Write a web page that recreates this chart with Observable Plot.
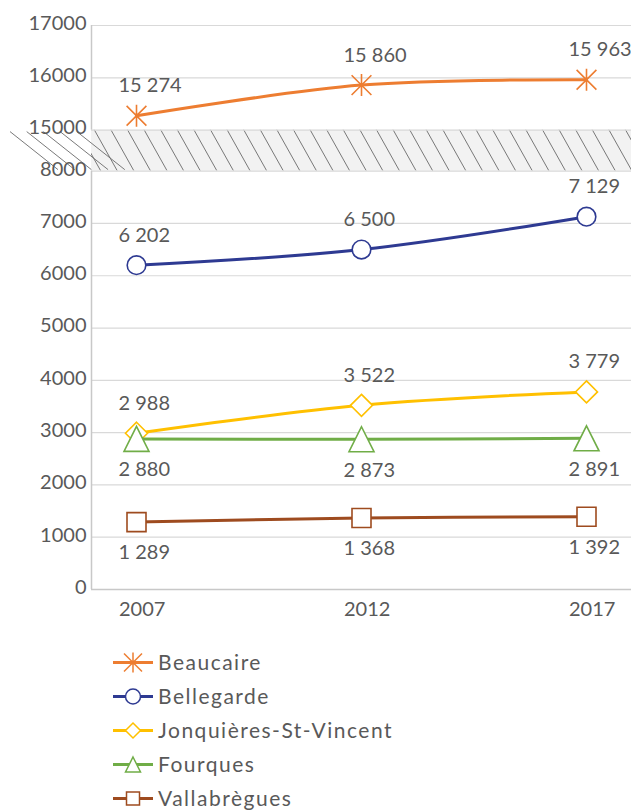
<!DOCTYPE html>
<html>
<head>
<meta charset="utf-8">
<script src="https://cdn.jsdelivr.net/npm/d3@7"></script>
<script src="https://cdn.jsdelivr.net/npm/@observablehq/plot@0.6"></script>
<style>
  body { margin: 0; background: #fff; }
  #chart svg, #legend svg { display: block; }
</style>
</head>
<body>
<div id="chart"></div>
<div id="legend"></div>
<script>
// ---- data ----
const years = [2007, 2012, 2017];
const communes = ["Beaucaire", "Bellegarde", "Jonquières-St-Vincent", "Fourques", "Vallabrègues"];
const beaucaire = [15274, 15860, 15963];
const bellegarde = [6202, 6500, 7129];
const jonquieres = [2988, 3522, 3779];
const fourques = [2880, 2873, 2891];
const vallabregues = [1289, 1368, 1392];
const seriesValues = [beaucaire, bellegarde, jonquieres, fourques, vallabregues];
const seriesColors = ["#ED7D31", "#2E3A92", "#FFC000", "#70AD47", "#9E4B1F"];
const seriesSymbols = ["star", "circle", "diamond", "triangle", "square"];
const labelSide = ["above", "above", "above", "below", "below"];
const lowTicks = [0, 1000, 2000, 3000, 4000, 5000, 6000, 7000, 8000];
const highTicks = [15000, 16000, 17000];
const xDomain = [2006, 2018];

// ---- broken axis mapping ----
const LOW_MAX = 8000, HIGH_MIN = 15000, HIGH_MAX = 17000, GAP = 785;
const m = v => v >= HIGH_MIN ? v - HIGH_MIN + LOW_MAX + GAP : v;
const fmt = d3.formatLocale({decimal: ",", thousands: " ", grouping: [3]}).format(",");

const allTicks = [...lowTicks, ...highTicks];
const tickLabel = new Map(allTicks.map(t => [m(t), String(t)]));

// ---- custom symbols (Excel-like) ----
const symbolDefs = {
  star: {draw(c, s) { const h = Math.sqrt(s / Math.PI), d = h * 0.9;
    c.moveTo(0, -h); c.lineTo(0, h); c.moveTo(-d, -d); c.lineTo(d, d); c.moveTo(-d, d); c.lineTo(d, -d); }},
  circle: {draw(c, s) { const h = Math.sqrt(s / Math.PI); c.moveTo(h, 0); c.arc(0, 0, h, 0, 2 * Math.PI); }},
  diamond: {draw(c, s) { const h = Math.sqrt(s / Math.PI);
    c.moveTo(0, -h); c.lineTo(h, 0); c.lineTo(0, h); c.lineTo(-h, 0); c.closePath(); }},
  triangle: {draw(c, s) { const h = Math.sqrt(s / Math.PI);
    c.moveTo(0, -h); c.lineTo(h, h); c.lineTo(-h, h); c.closePath(); }},
  square: {draw(c, s) { const h = Math.sqrt(s / Math.PI); c.rect(-h, -h, 2 * h, 2 * h); }}
};
const markerR = {star: 11, circle: 9.3, diamond: 11, triangle: 12.5, square: 9.5};
const legendR = {star: 10, circle: 7.5, diamond: 7.5, triangle: 7.5, square: 6.5};

// ---- build marks ----
const rows = [];
seriesValues.forEach((vals, i) => vals.forEach((v, j) =>
  rows.push({serie: communes[i], idx: i, year: years[j], value: v, ym: m(v)})));

const marks = [
  Plot.rect([{x1: xDomain[0], x2: xDomain[1], y1: m(LOW_MAX), y2: m(HIGH_MIN)}],
    {x1: "x1", x2: "x2", y1: "y1", y2: "y2", fill: "#f2f2f2"}),
  Plot.ruleY(allTicks.filter(t => t !== 0).map(m), {stroke: "#d9d9d9", strokeWidth: 1.2}),
  Plot.ruleY([m(0)], {stroke: "#c8c8c8", strokeWidth: 1.5}),
  Plot.ruleX([{y1: m(0), y2: m(LOW_MAX)}, {y1: m(HIGH_MIN), y2: m(HIGH_MAX)}],
    {x: () => xDomain[0], y1: "y1", y2: "y2", stroke: "#c8c8c8", strokeWidth: 1.5}),
  Plot.axisY({ticks: allTicks.map(m), tickFormat: d => tickLabel.get(d), tickSize: 0, tickPadding: 5,
    fontSize: 20, dy: -2}),
  Plot.axisX({ticks: years, tickFormat: d => String(d), tickSize: 0, tickPadding: 12,
    fontSize: 20, textAnchor: "start", dx: -17.5})
];
communes.forEach((name, i) => {
  const data = rows.filter(r => r.idx === i);
  const sym = seriesSymbols[i];
  marks.push(Plot.line(data, {x: "year", y: "ym", stroke: seriesColors[i], strokeWidth: 3, curve: "catmull-rom"}));
  marks.push(Plot.dot(data, {x: "year", y: "ym", symbol: symbolDefs[sym], r: markerR[sym],
    stroke: seriesColors[i], strokeWidth: 1.6, fill: sym === "star" ? "none" : "white"}));
  marks.push(Plot.text(data, {x: "year", y: "ym", text: d => fmt(d.value), fontSize: 20,
    fill: "#595959", textAnchor: "start", dx: -18, dy: labelSide[i] === "above" ? -30 : 31}));
});

const chart = Plot.plot({
  width: 631, height: 624,
  marginLeft: 91, marginRight: 0, marginTop: 25, marginBottom: 35,
  x: {domain: xDomain, axis: null},
  y: {domain: [0, m(HIGH_MAX)], axis: null},
  style: {fontFamily: "Lato, 'Open Sans', sans-serif", color: "#595959", background: "white", overflow: "visible"},
  marks
});

// hatch lines for the axis break
const sx = chart.scale("x"), sy = chart.scale("y");
const yTop = sy.apply(m(HIGH_MIN)), yBot = sy.apply(m(LOW_MAX));
const xL = sx.apply(xDomain[0]), xR = sx.apply(xDomain[1]);
const svg = d3.select(chart);
svg.append("defs").append("clipPath").attr("id", "hatchclip")
  .append("rect").attr("x", xL).attr("y", yTop).attr("width", xR - xL).attr("height", yBot - yTop);
const hg = svg.insert("g", "g[aria-label='rule']").attr("stroke", "#6a6a6a").attr("stroke-width", 0.9);
const inner = hg.append("g").attr("clip-path", "url(#hatchclip)");
for (let x = xL - 30; x < xR + 5; x += 16.6) {
  inner.append("line").attr("x1", x).attr("y1", yTop).attr("x2", x + 23).attr("y2", yBot);
}
for (let k = 0; k < 5; k++) {
  const x0 = 10 + k * 16.7;
  hg.append("line").attr("x1", x0).attr("y1", yTop + 2).attr("x2", x0 + 48).attr("y2", yBot - 1);
}
document.getElementById("chart").append(chart);

// ---- legend ----
const lg = d3.select("#legend").append("svg").attr("width", 631).attr("height", 187)
  .style("font-family", "Lato, 'Open Sans', sans-serif");
communes.forEach((name, i) => {
  const y = 38.5 + i * 34;
  const g = lg.append("g").attr("transform", `translate(0,${y})`);
  g.append("line").attr("x1", 113).attr("x2", 153).attr("stroke", seriesColors[i]).attr("stroke-width", 3);
  const sym = seriesSymbols[i];
  g.append("path").attr("transform", "translate(133,0)")
    .attr("d", d3.symbol().type(symbolDefs[sym]).size(Math.PI * legendR[sym] ** 2)())
    .attr("fill", sym === "star" ? "none" : "white").attr("stroke", seriesColors[i]).attr("stroke-width", 1.5);
  g.append("text").attr("x", 158).attr("dy", "0.36em").attr("font-size", 21)
    .attr("letter-spacing", 1.5).attr("fill", "#595959").text(name);
});
</script>
</body>
</html>
